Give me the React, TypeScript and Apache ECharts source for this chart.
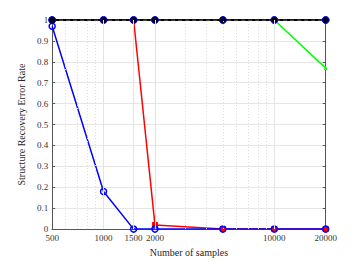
import React, { useEffect, useRef } from "react";
import * as echarts from "echarts";

const samples = [500, 1000, 1500, 2000, 5000, 10000, 20000];
const xTickLabels = [500, 1000, 1500, 2000, 10000, 20000];
const blueValues = [0.97, 0.18, 0, 0, 0, 0, 0];
const redValues = [1, 1, 1, 0.02, 0, 0, 0];
const greenValues = [1, 1, 1, 1, 1, 1, 0.77];
const blackValues = [1, 1, 1, 1, 1, 1, 1];
const majorGridX = [1000, 1500, 2000, 10000];
const minorGridX = [600, 700, 800, 900, 3000, 4000, 5000, 6000, 7000, 8000, 9000];

const FONT = "'Liberation Serif', 'Times New Roman', serif";
const AXIS = "#555555";

function pairs(vals: number[]) {
  return samples.map((s, i) => [s, vals[i]]);
}

export default function App() {
  const ref = useRef<HTMLDivElement>(null);
  useEffect(() => {
    if (!ref.current) return;
    const chart = echarts.init(ref.current, undefined, { renderer: "svg" });
    chart.setOption({
      animation: false,
      backgroundColor: "#ffffff",
      grid: { left: 38.7, right: 26.3, top: 12, bottom: 21.7, containLabel: false },
      xAxis: [
        {
          type: "log",
          logBase: 10,
          min: 500,
          max: 20000,
          position: "bottom",
          name: "Number of samples",
          nameLocation: "middle",
          nameGap: 17,
          nameTextStyle: { fontFamily: FONT, fontSize: 10, color: "#262626" },
          axisLine: { show: true, lineStyle: { color: AXIS, width: 1 } },
          axisTick: { show: true, inside: true, length: 3, customValues: xTickLabels, lineStyle: { color: AXIS } },
          axisLabel: {
            customValues: xTickLabels,
            fontFamily: FONT,
            fontSize: 9,
            color: "#333",
            margin: 4,
            formatter: (v: number) => String(Math.round(v)),
          },
          splitLine: { show: false },
          minorTick: { show: false },
        },
        {
          type: "log",
          logBase: 10,
          min: 500,
          max: 20000,
          position: "top",
          axisLine: { show: true, lineStyle: { color: AXIS, width: 1 } },
          axisTick: { show: false },
          axisLabel: { show: false },
          splitLine: { show: false },
        },
      ],
      yAxis: [
        {
          type: "value",
          min: 0,
          max: 1,
          interval: 0.1,
          name: "Structure Recovery Error Rate",
          nameLocation: "middle",
          nameGap: 9,
          nameTextStyle: { fontFamily: FONT, fontSize: 10, color: "#262626" },
          axisLine: { show: true, lineStyle: { color: AXIS, width: 1 } },
          axisTick: { show: true, inside: true, length: 3, lineStyle: { color: AXIS } },
          axisLabel: { fontFamily: FONT, fontSize: 9, color: "#333", margin: 4 },
          splitLine: { show: true, lineStyle: { color: "#e6e6e6", width: 1 } },
        },
        {
          type: "value",
          min: 0,
          max: 1,
          interval: 0.1,
          position: "right",
          axisLine: { show: true, lineStyle: { color: AXIS, width: 1 } },
          axisTick: { show: true, inside: true, length: 3, lineStyle: { color: AXIS } },
          axisLabel: { show: false },
          splitLine: { show: false },
        },
      ],
      series: [
        {
          type: "line",
          name: "grid",
          data: [],
          silent: true,
          markLine: {
            silent: true,
            symbol: "none",
            label: { show: false },
            data: [
              ...majorGridX.map((x) => ({ xAxis: x, lineStyle: { color: "#e3e3e3", width: 1, type: "solid" } })),
              ...minorGridX.map((x) => ({ xAxis: x, lineStyle: { color: "#dcdcdc", width: 1, type: [1, 2] } })),
            ],
          },
        },
        {
          type: "line",
          name: "green",
          data: pairs(greenValues),
          symbol: "triangle",
          symbolSize: 4,
          itemStyle: { color: "#00ff00" },
          lineStyle: { color: "#00ff00", width: 1.5 },
        },
        {
          type: "line",
          name: "red",
          data: pairs(redValues),
          symbol: "rect",
          symbolSize: 5,
          itemStyle: { color: "#ff0000", borderColor: "#ff0000" },
          lineStyle: { color: "#ff0000", width: 1.5 },
        },
        {
          type: "line",
          name: "blue",
          data: pairs(blueValues),
          symbol: "circle",
          symbolSize: 6,
          itemStyle: { color: "rgba(255,255,255,0)", borderColor: "#0000ff", borderWidth: 1.5 },
          lineStyle: { color: "#0000ff", width: 1.5 },
        },
        {
          type: "line",
          name: "black",
          data: pairs(blackValues),
          symbol: "circle",
          symbolSize: 7,
          itemStyle: { color: "#000022", borderColor: "#0000cc", borderWidth: 1 },
          lineStyle: { color: "#000000", width: 2 },
        },
        {
          type: "line",
          name: "blackDash",
          data: pairs(blackValues),
          symbol: "none",
          lineStyle: { color: "#888888", width: 1, type: [4, 3] },
        },
      ],
    });
    return () => chart.dispose();
  }, []);
  return <div ref={ref} style={{ width: 344, height: 254 }} />;
}
